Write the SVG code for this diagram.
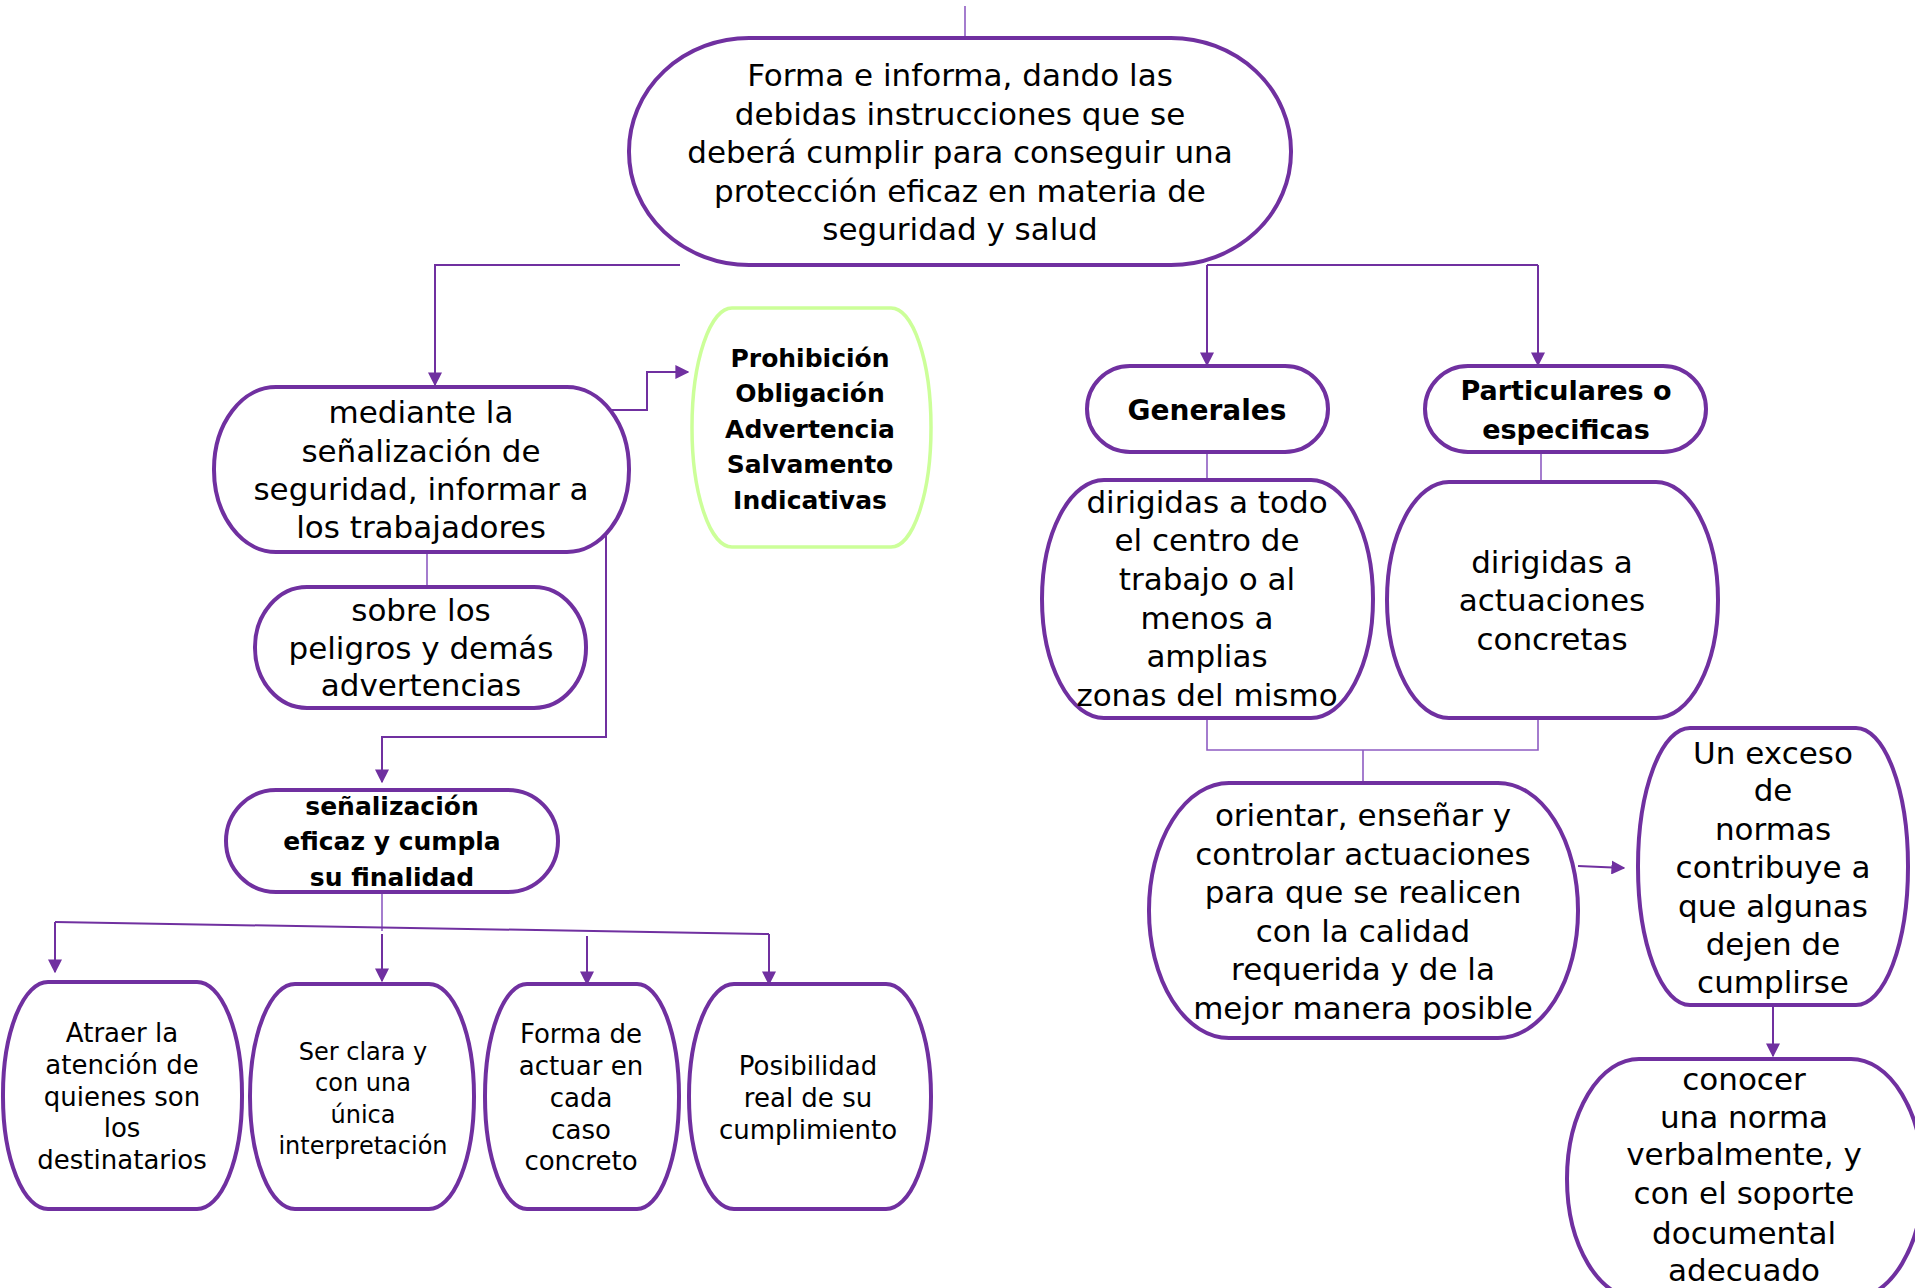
<svg xmlns="http://www.w3.org/2000/svg" width="1915" height="1288" viewBox="0 0 1915 1288">
<style>
.n{fill:#fff;stroke:#7030A0;stroke-width:4}
.g{fill:#fff;stroke:#CCFF99;stroke-width:3.5}
.t{font-family:"DejaVu Sans","Liberation Sans",sans-serif;font-size:31px;fill:#000;text-anchor:middle}
.s{font-size:26px}
.s2{font-size:24px}
.b{font-weight:bold;font-size:25px}
.c{fill:none;stroke:#7030A0;stroke-width:2}
.l{fill:none;stroke:#8E5CC2;stroke-width:1.6}
</style>
<defs>
<marker id="a" viewBox="0 0 10 10" refX="9" refY="5" markerWidth="7" markerHeight="7" orient="auto" markerUnits="strokeWidth">
<path d="M0,0 L10,5 L0,10 Z" fill="#7030A0"/>
</marker>
</defs>
<g id="connectors">
<path class="l" d="M965,6 V38"/>
<path class="c" d="M680,265 H435 V385" marker-end="url(#a)"/>
<path class="c" d="M1207,265 H1538"/>
<path class="c" d="M1207,265 V365" marker-end="url(#a)"/>
<path class="c" d="M1538,265 V365" marker-end="url(#a)"/>
<path class="c" d="M608,410 H647 V372 H688" marker-end="url(#a)"/>
<path class="l" d="M427,552 V587"/>
<path class="c" d="M606,525 V737 H382 V782" marker-end="url(#a)"/>
<path class="l" d="M382,892 V931"/>
<path class="c" d="M55,922 L769,934"/>
<path class="c" d="M55,922 V972" marker-end="url(#a)"/>
<path class="c" d="M382,934 V981" marker-end="url(#a)"/>
<path class="c" d="M587,936 V984" marker-end="url(#a)"/>
<path class="c" d="M769,934 V984" marker-end="url(#a)"/>
<path class="l" d="M1207,452 V480"/>
<path class="l" d="M1541,452 V482"/>
<path class="l" d="M1207,718 V750 H1538 V718"/>
<path class="l" d="M1363,750 V783"/>
<path class="c" d="M1578,866 L1624,868" marker-end="url(#a)"/>
<path class="c" d="M1773,1005 V1056" marker-end="url(#a)"/>
</g>
<g id="top">
<rect class="n" x="629" y="38" width="662" height="227" rx="120" ry="113"/>
<text class="t" x="960" y="86">Forma e informa, dando las</text>
<text class="t" x="960" y="125">debidas instrucciones que se</text>
<text class="t" x="960" y="163">deberá cumplir para conseguir una</text>
<text class="t" x="960" y="202">protección eficaz en materia de</text>
<text class="t" x="960" y="240">seguridad y salud</text>
</g>
<g id="mediante">
<rect class="n" x="214" y="387" width="415" height="165" rx="62" ry="82"/>
<text class="t" x="421" y="423">mediante la</text>
<text class="t" x="421" y="462">señalización de</text>
<text class="t" x="421" y="500">seguridad, informar a</text>
<text class="t" x="421" y="538">los trabajadores</text>
</g>
<g id="tipos">
<rect class="g" x="692" y="308" width="239" height="239" rx="40" ry="119"/>
<text class="t b" x="810" y="367">Prohibición</text>
<text class="t b" x="810" y="402">Obligación</text>
<text class="t b" x="810" y="438">Advertencia</text>
<text class="t b" x="810" y="473">Salvamento</text>
<text class="t b" x="810" y="509">Indicativas</text>
</g>
<g id="sobre">
<rect class="n" x="255" y="587" width="331" height="121" rx="52" ry="60"/>
<text class="t" x="421" y="621">sobre los</text>
<text class="t" x="421" y="659">peligros y demás</text>
<text class="t" x="421" y="696">advertencias</text>
</g>
<g id="eficaz">
<rect class="n" x="226" y="790" width="332" height="102" rx="50" ry="51"/>
<text class="t b" x="392" y="815">señalización</text>
<text class="t b" x="392" y="850">eficaz y cumpla</text>
<text class="t b" x="392" y="886">su finalidad</text>
</g>
<g id="atraer">
<rect class="n" x="3" y="982" width="239" height="227" rx="45" ry="112"/>
<text class="t s" x="122" y="1042">Atraer la</text>
<text class="t s" x="122" y="1074">atención de</text>
<text class="t s" x="122" y="1106">quienes son</text>
<text class="t s" x="122" y="1137">los</text>
<text class="t s" x="122" y="1169">destinatarios</text>
</g>
<g id="clara">
<rect class="n" x="250" y="984" width="224" height="225" rx="45" ry="112"/>
<text class="t s2" x="363" y="1060">Ser clara y</text>
<text class="t s2" x="363" y="1091">con una</text>
<text class="t s2" x="363" y="1123">única</text>
<text class="t s2" x="363" y="1154">interpretación</text>
</g>
<g id="actuar">
<rect class="n" x="485" y="984" width="194" height="225" rx="42" ry="112"/>
<text class="t s" x="581" y="1043">Forma de</text>
<text class="t s" x="581" y="1075">actuar en</text>
<text class="t s" x="581" y="1107">cada</text>
<text class="t s" x="581" y="1139">caso</text>
<text class="t s" x="581" y="1170">concreto</text>
</g>
<g id="posibilidad">
<rect class="n" x="689" y="984" width="242" height="225" rx="45" ry="112"/>
<text class="t s" x="808" y="1075">Posibilidad</text>
<text class="t s" x="808" y="1107">real de su</text>
<text class="t s" x="808" y="1139">cumplimiento</text>
</g>
<g id="generales">
<rect class="n" x="1087" y="366" width="241" height="86" rx="43" ry="43"/>
<text class="t b" x="1207" y="420" style="font-size:28px">Generales</text>
</g>
<g id="particulares">
<rect class="n" x="1425" y="366" width="281" height="86" rx="43" ry="43"/>
<text class="t b" x="1566" y="400" style="font-size:27px">Particulares o</text>
<text class="t b" x="1566" y="439" style="font-size:27px">especificas</text>
</g>
<g id="todo">
<rect class="n" x="1042" y="480" width="331" height="238" rx="62" ry="119"/>
<text class="t" x="1207" y="513">dirigidas a todo</text>
<text class="t" x="1207" y="551">el centro de</text>
<text class="t" x="1207" y="590">trabajo o al</text>
<text class="t" x="1207" y="629">menos a</text>
<text class="t" x="1207" y="667">amplias</text>
<text class="t" x="1207" y="706">zonas del mismo</text>
</g>
<g id="concretas">
<rect class="n" x="1387" y="482" width="331" height="236" rx="62" ry="118"/>
<text class="t" x="1552" y="573">dirigidas a</text>
<text class="t" x="1552" y="611">actuaciones</text>
<text class="t" x="1552" y="650">concretas</text>
</g>
<g id="orientar">
<rect class="n" x="1149" y="783" width="429" height="255" rx="80" ry="127"/>
<text class="t" x="1363" y="826">orientar, enseñar y</text>
<text class="t" x="1363" y="865">controlar actuaciones</text>
<text class="t" x="1363" y="903">para que se realicen</text>
<text class="t" x="1363" y="942">con la calidad</text>
<text class="t" x="1363" y="980">requerida y de la</text>
<text class="t" x="1363" y="1019">mejor manera posible</text>
</g>
<g id="exceso">
<rect class="n" x="1638" y="728" width="270" height="277" rx="52" ry="138"/>
<text class="t" x="1773" y="764">Un exceso</text>
<text class="t" x="1773" y="801">de</text>
<text class="t" x="1773" y="840">normas</text>
<text class="t" x="1773" y="878">contribuye a</text>
<text class="t" x="1773" y="917">que algunas</text>
<text class="t" x="1773" y="955">dejen de</text>
<text class="t" x="1773" y="993">cumplirse</text>
</g>
<g id="conocer">
<rect class="n" x="1567" y="1059" width="356" height="240" rx="72" ry="120"/>
<text class="t" x="1744" y="1090">conocer</text>
<text class="t" x="1744" y="1128">una norma</text>
<text class="t" x="1744" y="1165">verbalmente, y</text>
<text class="t" x="1744" y="1204">con el soporte</text>
<text class="t" x="1744" y="1244">documental</text>
<text class="t" x="1744" y="1281">adecuado</text>
</g>
</svg>
